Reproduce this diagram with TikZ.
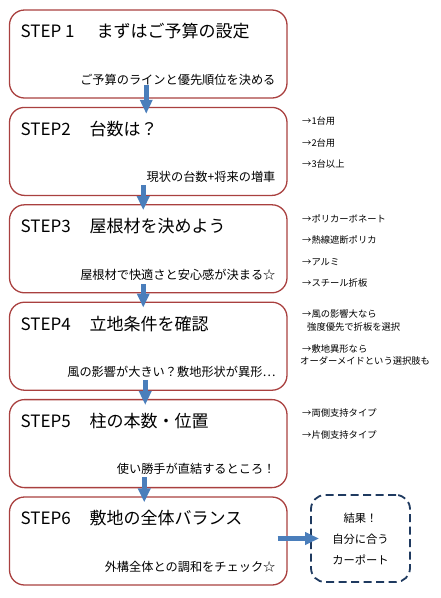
\documentclass[tikz,border=0pt]{standalone}
\usepackage{fontspec}
\setmainfont{Noto Sans CJK JP}
\usetikzlibrary{arrows.meta}

\definecolor{boxred}{HTML}{A9403F}
\definecolor{flowblue}{HTML}{4A7EBB}
\definecolor{resnavy}{HTML}{1F3A60}

\tikzset{
  stepbox/.style={draw=boxred, line width=1.3pt, rounded corners=15pt,
    minimum width=277.5pt, minimum height=88pt, inner sep=0pt},
  steptitle/.style={anchor=west, inner sep=0pt, font=\fontsize{17}{20}\selectfont},
  stepsub/.style={anchor=east, inner sep=0pt, font=\fontsize{12.2}{14}\selectfont},
  note/.style={anchor=west, inner sep=0pt, font=\fontsize{9.3}{11}\selectfont},
  flow/.style={draw=flowblue, line width=4.5pt, -{Triangle[width=12pt,length=14pt]}},
  resbox/.style={draw=resnavy, line width=1.8pt, dash pattern=on 8pt off 4.5pt,
    rounded corners=14pt, minimum width=99pt, minimum height=87pt, align=center,
    font=\fontsize{11.3}{21}\selectfont},
}

\begin{document}
\begin{tikzpicture}[x=1pt,y=-1pt]
\useasboundingbox (0,0) rectangle (441,598);

% step boxes
\node[stepbox] (s1) at (148.25,54) {};
\node[stepbox] (s2) at (148.25,151.4) {};
\node[stepbox] (s3) at (148.25,248.8) {};
\node[stepbox] (s4) at (148.25,346.2) {};
\node[stepbox] (s5) at (148.25,443.6) {};
\node[stepbox] (s6) at (148.25,541) {};

% titles
\node[steptitle] (t1) at ([xshift=11.5pt,yshift=-22pt]s1.north west) {STEP 1\hspace{22pt}まずはご予算の設定};
\node[steptitle] (t2) at ([xshift=11.5pt,yshift=-22pt]s2.north west) {STEP2\hspace{19pt}台数は？};
\node[steptitle] (t3) at ([xshift=11.5pt,yshift=-22pt]s3.north west) {STEP3\hspace{19pt}屋根材を決めよう};
\node[steptitle] (t4) at ([xshift=11.5pt,yshift=-22pt]s4.north west) {STEP4\hspace{19pt}立地条件を確認};
\node[steptitle] (t5) at ([xshift=11.5pt,yshift=-22pt]s5.north west) {STEP5\hspace{19pt}柱の本数・位置};
\node[steptitle] (t6) at ([xshift=11.5pt,yshift=-22pt]s6.north west) {STEP6\hspace{19pt}敷地の全体バランス};

% subtitles
\node[stepsub] (u1) at ([xshift=-12pt,yshift=19pt]s1.south east) {ご予算のラインと優先順位を決める};
\node[stepsub] (u2) at ([xshift=-12pt,yshift=19pt]s2.south east) {現状の台数+将来の増車};
\node[stepsub] (u3) at ([xshift=-12pt,yshift=19pt]s3.south east) {屋根材で快適さと安心感が決まる☆};
\node[stepsub] (u4) at ([xshift=-12pt,yshift=19pt]s4.south east) {風の影響が大きい？敷地形状が異形…};
\node[stepsub] (u5) at ([xshift=-12pt,yshift=19pt]s5.south east) {使い勝手が直結するところ！};
\node[stepsub] (u6) at ([xshift=-12pt,yshift=19pt]s6.south east) {外構全体との調和をチェック☆};

% arrows
\draw[flow] ([xshift=-2pt,yshift=14pt]s1.south) -- ([xshift=-2pt,yshift=-7pt]s2.north);
\draw[flow] ([xshift=-5pt,yshift=11pt]s2.south) -- ([xshift=-5pt,yshift=-6pt]s3.north);
\draw[flow] ([xshift=-5pt,yshift=9pt]s3.south) -- ([xshift=-5pt,yshift=-6pt]s4.north);
\draw[flow] ([xshift=-3pt,yshift=11pt]s4.south) -- ([xshift=-3pt,yshift=-6pt]s5.north);
\draw[flow] ([xshift=-4pt,yshift=11pt]s5.south) -- ([xshift=-4pt,yshift=-6pt]s6.north);

% result
\node[resbox] (res) at (360.5,538.5) {結果！\\自分に合う\\カーポート};
\draw[flow] ([xshift=-10pt]s6.east |- res.west) -- ([xshift=9pt]res.west);

% notes
\node[note] (n21) at (302,121) {→1台用};
\node[note] (n22) at (302,143) {→2台用};
\node[note] (n23) at (302,164) {→3台以上};
\node[note] (n31) at (302,219) {→ポリカーボネート};
\node[note] (n32) at (302,240) {→熱線遮断ポリカ};
\node[note] (n33) at (302,262) {→アルミ};
\node[note] (n34) at (302,283) {→スチール折板};
\node[note] (n41) at (302,314) {→風の影響大なら};
\node[note] (n42) at (307,327) {強度優先で折板を選択};
\node[note] (n43) at (302,349) {→敷地異形なら};
\node[note] (n44) at (300,361) {オーダーメイドという選択肢も};
\node[note] (n51) at (302,413) {→両側支持タイプ};
\node[note] (n52) at (302,435) {→片側支持タイプ};
\end{tikzpicture}
\end{document}
